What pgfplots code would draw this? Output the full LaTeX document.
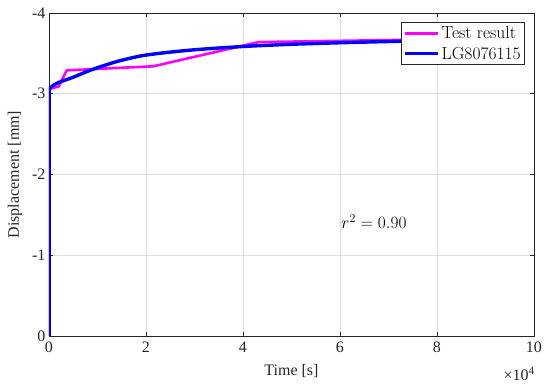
\documentclass[border=0pt]{standalone}
\usepackage{fontspec}
\usepackage{pgfplots}
\pgfplotsset{compat=1.18}
\newfontfamily\tnr{Liberation Serif}
\definecolor{axgray}{RGB}{38,38,38}
\definecolor{gridgray}{RGB}{223,223,223}
\begin{document}
\begin{tikzpicture}
\path[use as bounding box] (-49pt,-53pt) rectangle (501pt,336pt);
\begin{axis}[
  scale only axis,
  width=485pt, height=323pt,
  xmin=0, xmax=10, ymin=-4, ymax=0,
  y dir=reverse,
  xtick={0,2,4,6,8,10},
  xticklabels={0,2,4,6,8,10},
  ytick={-4,-3,-2,-1,0},
  yticklabels={-4,-3,-2,-1,0},
  tick align=inside,
  major tick length=4pt,
  axis line style={axgray, line width=0.7pt},
  every tick/.style={axgray, line width=0.6pt},
  grid=major,
  major grid style={gridgray, line width=0.6pt},
  ticklabel style={font=\tnr\fontsize{16}{16}\selectfont, text=axgray},
  xticklabel style={yshift=-2pt},
  xlabel={Time [s]},
  ylabel={Displacement [mm]},
  label style={font=\tnr\fontsize{16}{16}\selectfont, text=axgray},
  xlabel style={yshift=-5pt},
  ylabel style={yshift=3pt},
  legend style={at={(1,1)}, anchor=north east, xshift=-9pt, yshift=-9pt,
    draw=axgray, line width=0.6pt, font=\fontsize{17.5}{19}\selectfont,
    inner sep=2pt, row sep=3pt},
  legend cell align=left,
  legend image code/.code={\draw[#1, line width=3pt] (0pt,0pt) -- (33pt,0pt);},
  clip=true,
]
\addplot[color={rgb,255:red,255;green,0;blue,255}, line width=2.6pt, line join=round] coordinates {
(0,0) (0.01,-3.06) (0.2,-3.09) (0.365,-3.29) (2.15,-3.34) (4.32,-3.64) (7.6,-3.67)
};
\addlegendentry{Test result}
\addplot[color=blue, line width=3.4pt, line join=round, smooth, tension=0.5] coordinates {
(0,-3.06) (0.16,-3.13) (0.5,-3.205) (0.845,-3.29) (1.19,-3.36) (1.5,-3.415) (2.01,-3.48) (2.91,-3.54) (3.94,-3.583) (4.97,-3.612) (6.2,-3.635) (7.6,-3.655)
};
\addlegendentry{LG8076115}
\addplot[forget plot, color=blue, line width=3.4pt] coordinates {(0,0) (0,-3.06)};
\node[font=\fontsize{16.5}{16.5}\selectfont] at (axis cs:6.7,-1.42) {$r^2 = 0.90$};
\end{axis}
\node[anchor=north east, inner sep=0pt, font=\tnr\fontsize{16}{16}\selectfont, text=axgray] at (486pt,-31pt) {\texttimes10\textsuperscript{4}};
\end{tikzpicture}
\end{document}
